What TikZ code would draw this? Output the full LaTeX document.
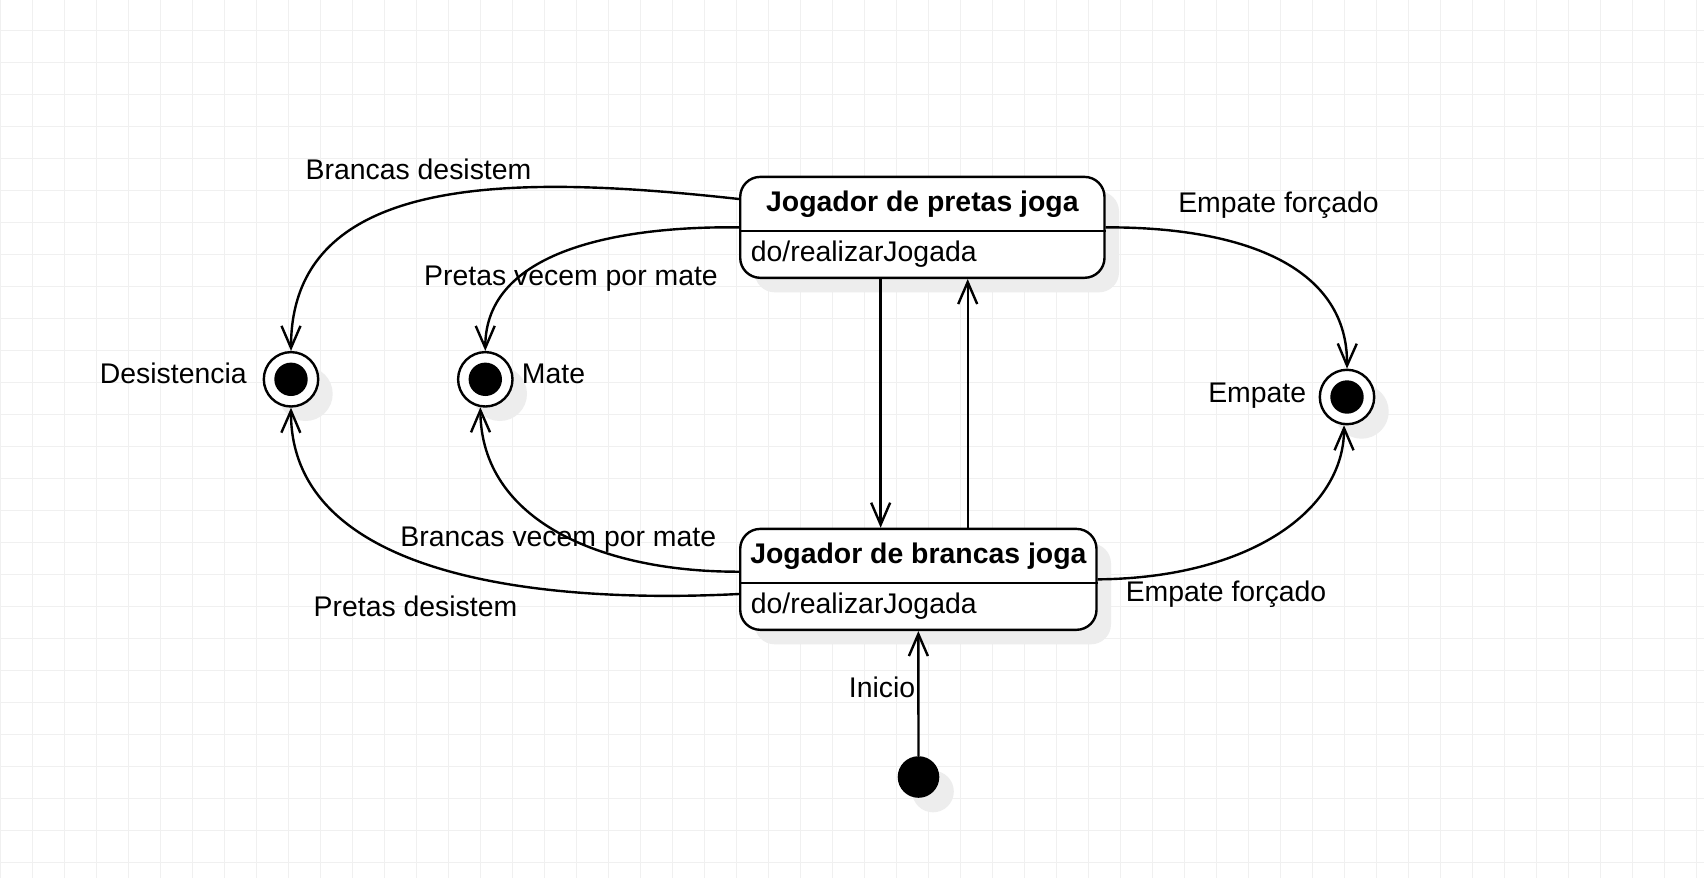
\documentclass[tikz,border=0pt]{standalone}
\usepackage{fontspec}
\setmainfont{Liberation Sans}
\usetikzlibrary{arrows.meta,shadows}
\begin{document}
\begin{tikzpicture}[x=1pt,y=-1pt,
  every node/.style={font=\fontsize{28.4pt}{34pt}\selectfont, inner sep=0pt},
  gridln/.style={line width=1pt, draw=black!6},
  ln/.style={line width=2.4pt, draw=black},
  arr/.style={ln, -{Straight Barb[length=22pt,width=19pt]}},
  shd/.style={drop shadow={shadow xshift=14.5pt,shadow yshift=-14.5pt,fill=black!7,opacity=1}},
  stbox/.style={ln, fill=white, rounded corners=20pt, minimum height=100.9pt, shd},
  fin/.style={circle, ln, fill=white, minimum size=54.4pt, shd},
  lbl/.style={anchor=base}
]
\useasboundingbox (0,0) rectangle (1704,878);
\fill[white] (0,0) rectangle (1704,878);
% grid
\foreach \i in {0,...,53} \draw[gridln] (0.3+32*\i,0) -- (0.3+32*\i,878);
\foreach \j in {0,...,26} \draw[gridln] (0,30+32*\j) -- (1704,30+32*\j);

% state boxes
\node[stbox, minimum width=364.3pt] (ptop) at (922.35,227.35) {};
\draw[ln] (ptop.west |- 0,230.7) -- (ptop.east |- 0,230.7);
\node[stbox, minimum width=356.3pt] (pbot) at (918.35,579.35) {};
\draw[ln] (pbot.west |- 0,582.7) -- (pbot.east |- 0,582.7);

\node[anchor=base, font=\fontsize{28.4pt}{34pt}\selectfont\bfseries] (ttop) at (922.35,211.7) {Jogador de pretas joga};
\node[anchor=base west] (dtop) at (750.7,261.7) {do/realizarJogada};
\node[anchor=base, font=\fontsize{28.4pt}{34pt}\selectfont\bfseries] (tbot) at (918.35,563.3) {Jogador de brancas joga};
\node[anchor=base west] (dbot) at (750.7,613.3) {do/realizarJogada};

% final states
\node[fin] (desist) at (291,379.3) {};
\fill (desist.center) circle (16.7pt);
\node[fin] (mate) at (485.3,379.3) {};
\fill (mate.center) circle (16.7pt);
\node[fin] (emp) at (1347,397) {};
\fill (emp.center) circle (16.7pt);
% initial
\node[circle, fill=black, minimum size=41.6pt, shd] (ini) at (918.5,777) {};

% edges
\draw[arr] ([yshift=28.35pt]ptop.west) .. controls (520,175) and (291,170) .. (desist.north);
\draw[arr] (ptop.west) .. controls (620,226) and (485,250) .. (mate.north);
\draw[arr] (ptop.east) .. controls (1250,227) and (1348,270) .. (emp.north);
\draw[arr] ([xshift=-41.7pt]ptop.south) -- ([xshift=-37.7pt]pbot.north);
\draw[arr] ([xshift=49.35pt]pbot.north) -- ([xshift=45.35pt]ptop.south);
\draw[arr] ([yshift=7.65pt]pbot.west) .. controls (600,572) and (481,520) .. (mate.260);
\draw[arr] ([yshift=-14.65pt]pbot.west) .. controls (520,605) and (290,570) .. (desist.south);
\draw[arr] (pbot.east) .. controls (1250,578) and (1344,510) .. (emp.264);
\draw[arr] (ini) -- (pbot.south);

% labels
\node[lbl] (l1) at (418.5,179) {Brancas desistem};
\node[lbl] (l2) at (571,285) {Pretas vecem por mate};
\node[lbl] (l3) at (1278.5,212.3) {Empate forçado};
\node[lbl] (l4) at (558.3,546) {Brancas vecem por mate};
\node[lbl] (l5) at (415.5,616) {Pretas desistem};
\node[lbl] (l6) at (1226,601.7) {Empate forçado};
\node[lbl] (l7) at (882,697.3) {Inicio};
\node[lbl] (s1) at (173.3,383.5) {Desistencia};
\node[anchor=base west] (s2) at (521.7,383.5) {Mate};
\node[lbl] (s3) at (1257.2,402.3) {Empate};
\end{tikzpicture}
\end{document}
